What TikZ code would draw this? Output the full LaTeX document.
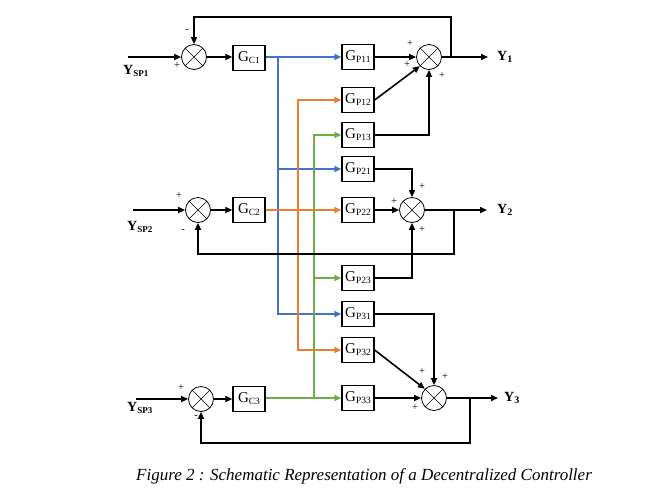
\documentclass[tikz,border=0pt]{standalone}
\usepackage{fontspec}
\setmainfont{Liberation Serif}
\usetikzlibrary{arrows.meta,calc}
\definecolor{cblue}{RGB}{68,114,196}
\definecolor{corange}{RGB}{237,125,49}
\definecolor{cgreen}{RGB}{112,173,71}
\newcommand{\gsub}[1]{{\fontsize{15}{15}\selectfont G}\raisebox{-2pt}{\fontsize{9.5}{9.5}\selectfont #1}}
\newcommand{\ysub}[2]{\textbf{{\fontsize{14}{14}\selectfont Y}\raisebox{-1.5pt}{\fontsize{#2}{#2}\selectfont #1}}}
\tikzset{
  sumnode/.style={circle,draw,line width=0.8pt,minimum size=25pt,inner sep=0pt,
    path picture={\draw[line width=0.5pt] (path picture bounding box.north west)--(path picture bounding box.south east)
      (path picture bounding box.north east)--(path picture bounding box.south west);}},
  blk/.style={draw,line width=1.3pt,minimum width=32pt,minimum height=25pt,inner sep=0pt},
  arr/.style={-{Triangle[length=7pt,width=6pt]}},
  wire/.style={line width=1.6pt},
  bw/.style={wire,draw=cblue,arr},
  ow/.style={wire,draw=corange,arr},
  gw/.style={wire,draw=cgreen,arr},
  kw/.style={wire,draw=black,arr},
  fb/.style={line width=1.8pt,arr},
  sign/.style={font=\fontsize{10.5}{10.5}\selectfont,inner sep=0pt}
}
\begin{document}
\begin{tikzpicture}[x=1pt,y=-1pt]
\fill[white] (0,0) rectangle (653,499);
\useasboundingbox (0,0) rectangle (653,499);

% summing junctions
\node[sumnode] (s1) at (194,57) {};
\node[sumnode] (s2) at (198,210) {};
\node[sumnode] (s3) at (201,399) {};
\node[sumnode] (o1) at (429,57) {};
\node[sumnode] (o2) at (412,210) {};
\node[sumnode] (o3) at (434,398) {};

% controllers
\node[blk] (c1) at (249,58) {\gsub{C1}};
\node[blk] (c2) at (249,210) {\gsub{C2}};
\node[blk] (c3) at (249,399) {\gsub{C3}};

% plants
\node[blk] (p11) at (358,57) {\gsub{P11}};
\node[blk] (p12) at (358,100) {\gsub{P12}};
\node[blk] (p13) at (358,135) {\gsub{P13}};
\node[blk] (p21) at (358,169) {\gsub{P21}};
\node[blk] (p22) at (358,210) {\gsub{P22}};
\node[blk] (p23) at (358,278) {\gsub{P23}};
\node[blk] (p31) at (358,314) {\gsub{P31}};
\node[blk] (p32) at (358,350) {\gsub{P32}};
\node[blk] (p33) at (358,398) {\gsub{P33}};

% input labels and starts
\coordinate (in1) at (128,57);
\coordinate (in2) at (133,210);
\coordinate (in3) at (136,399);
\node[anchor=west,inner sep=0pt] (ysp1) at (123,71) {\ysub{SP1}{9}};
\node[anchor=west,inner sep=0pt] (ysp2) at (127,227) {\ysub{SP2}{9}};
\node[anchor=west,inner sep=0pt] (ysp3) at (127,408) {\ysub{SP3}{9}};

% output labels
\coordinate (e1) at (488,57);
\coordinate (e2) at (487,210);
\coordinate (e3) at (498,398);
\node[anchor=west,inner sep=0pt] (y1) at (497,57) {\ysub{1}{10}};
\node[anchor=west,inner sep=0pt] (y2) at (497,210) {\ysub{2}{10}};
\node[anchor=west,inner sep=0pt] (y3) at (504,398) {\ysub{3}{10}};

% input arrows
\draw[kw] (in1) -- (s1.west);
\draw[kw] (in2) -- (s2.west);
\draw[kw] (in3) -- (s3.west);
\draw[kw] (s1.east) -- (c1.west |- s1.east);
\draw[kw] (s2.east) -- (c2.west);
\draw[kw] (s3.east) -- (c3.west);

% colored distribution
\coordinate (jb) at (278,57);
\coordinate (jo) at (298,210);
\coordinate (jg) at (314,398);
\draw[bw] (c1.east |- jb) -- (p11.west);
\draw[bw] (jb) |- (p21.west);
\draw[bw] (jb) |- (p31.west);
\draw[ow] (c2.east) -- (p22.west);
\draw[ow] (jo) |- (p12.west);
\draw[ow] (jo) |- (p32.west);
\draw[gw] (c3.east |- jg) -- (p33.west);
\draw[gw] (jg) |- (p13.west);
\draw[gw] (jg) |- (p23.west);

% plant outputs
\draw[kw] (p11.east) -- (o1.west);
\draw[kw] (p12.east) -- (o1.south west);
\draw[kw] (p13.east) -| (o1.south);
\draw[kw] (p21.east) -| (o2.north);
\draw[kw] (p22.east) -- (o2.west);
\draw[kw] (p23.east) -| (o2.south);
\draw[kw] (p31.east) -| (o3.north);
\draw[kw] (p32.east) -- (o3.north west);
\draw[kw] (p33.east) -- (o3.west);

% outputs
\draw[kw] (o1.east) -- (e1);
\draw[kw] (o2.east) -- (e2);
\draw[kw] (o3.east) -- (e3);

% feedback
\coordinate (f1) at (451,57);
\coordinate (f2) at (454,210);
\coordinate (f3) at (470,398);
\draw[fb] (f1) -- (451,17) -| (s1.north);
\draw[fb] (f2) -- (454,254) -| (s2.south);
\draw[fb] (f3) -- (470,443) -| (s3.south);

% signs
\node[sign] at (187,31) {-};
\node[sign] at (177,66) {+};
\node[sign] at (179,196) {+};
\node[sign] at (183,231) {-};
\node[sign] at (181,388) {+};
\node[sign] at (196,417) {-};
\node[sign] at (410,44) {+};
\node[sign] at (407,65) {+};
\node[sign] at (442,76) {+};
\node[sign] at (422,187) {+};
\node[sign] at (394,202) {+};
\node[sign] at (422,230) {+};
\node[sign] at (422,372) {+};
\node[sign] at (445,377) {+};
\node[sign] at (415,408) {+};

% caption
\node[font=\itshape\fontsize{17}{17}\selectfont] (cap) at (364,476) {Figure 2 : Schematic Representation of a Decentralized Controller};
\end{tikzpicture}
\end{document}
